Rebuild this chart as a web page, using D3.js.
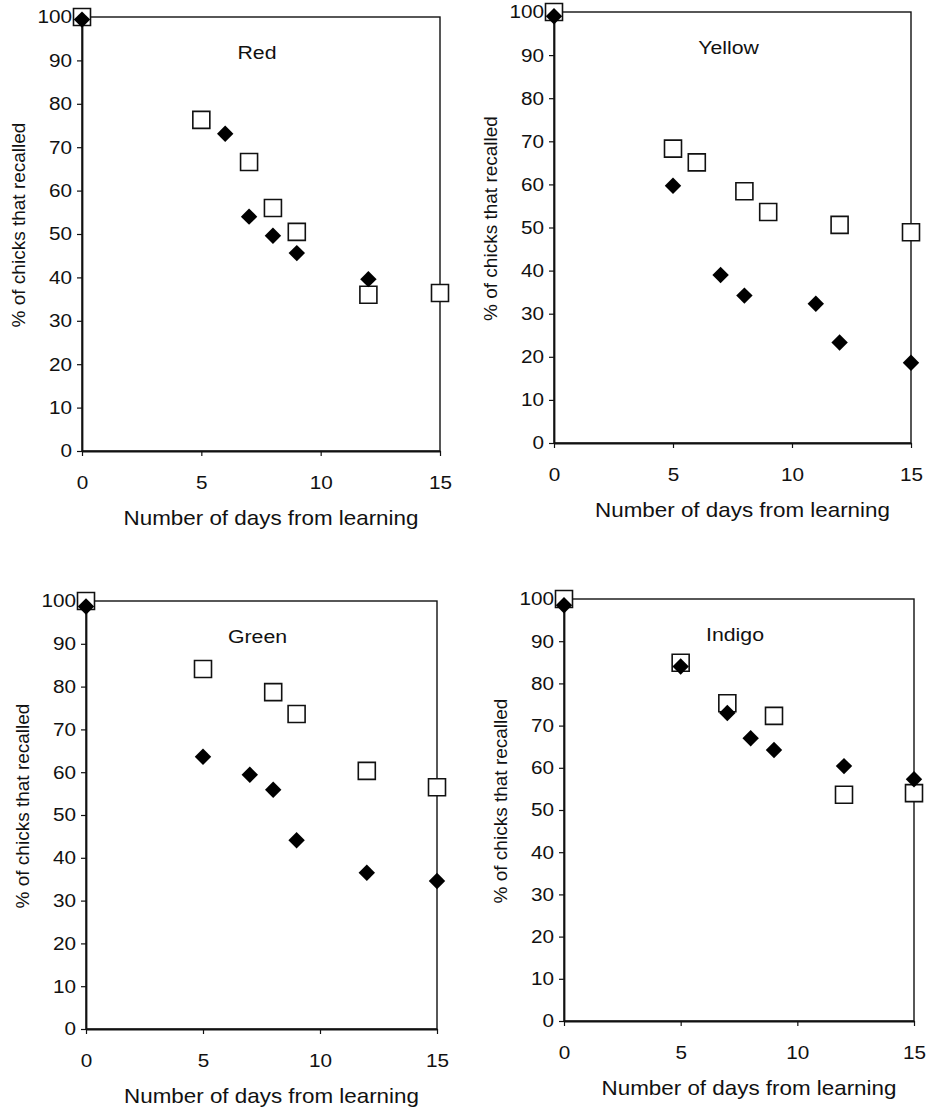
<!DOCTYPE html>
<html>
<head>
<meta charset="utf-8">
<script src="https://cdn.jsdelivr.net/npm/d3@7"></script>
<style>
  body { margin: 0; background: #fff; }
  text { font-family: "Liberation Sans", Arial, sans-serif; fill: #111; }
</style>
</head>
<body>
<script>
var width = 931,
    height = 1108,
    stretch = 1.12; // the printed font is wider than Arial

// day from learning / % of chicks that recalled
var redOpenDays = [0, 5, 7, 8, 9, 12, 15];
var redOpen = [100, 76.3, 66.6, 56, 50.5, 36, 36.4];
var redFilledDays = [0, 6, 7, 8, 9, 12];
var redFilled = [99.4, 73.1, 54, 49.6, 45.6, 39.6];

var yellowOpenDays = [0, 5, 6, 8, 9, 12, 15];
var yellowOpen = [100, 68.3, 65.1, 58.4, 53.6, 50.6, 48.9];
var yellowFilledDays = [0, 5, 7, 8, 11, 12, 15];
var yellowFilled = [99, 59.7, 39, 34.2, 32.3, 23.3, 18.6];

var greenOpenDays = [0, 5, 8, 9, 12, 15];
var greenOpen = [100, 84.1, 78.7, 73.6, 60.3, 56.5];
var greenFilledDays = [0, 5, 7, 8, 9, 12, 15];
var greenFilled = [98.7, 63.6, 59.4, 55.9, 44.1, 36.5, 34.6];

var indigoOpenDays = [0, 5, 7, 9, 12, 15];
var indigoOpen = [100, 84.9, 75.3, 72.3, 53.6, 54];
var indigoFilledDays = [0, 5, 7, 8, 9, 12, 15];
var indigoFilled = [98.5, 84, 73, 67, 64.2, 60.4, 57.3];

var xTicks = [0, 5, 10, 15];
var yTicks = [0, 10, 20, 30, 40, 50, 60, 70, 80, 90, 100];
var xTitle = "Number of days from learning";
var yTitle = "% of chicks that recalled";

function zip(days, vals) {
  return days.map(function(d, i) { return {day: d, value: vals[i]}; });
}

var panels = [
  {name: "Red", left: 82, top: 17, w: 358, h: 434,
   open: zip(redOpenDays, redOpen), filled: zip(redFilledDays, redFilled)},
  {name: "Yellow", left: 554, top: 12, w: 357, h: 431,
   open: zip(yellowOpenDays, yellowOpen), filled: zip(yellowFilledDays, yellowFilled)},
  {name: "Green", left: 86, top: 601, w: 351, h: 428,
   open: zip(greenOpenDays, greenOpen), filled: zip(greenFilledDays, greenFilled)},
  {name: "Indigo", left: 564, top: 599, w: 350, h: 422,
   open: zip(indigoOpenDays, indigoOpen), filled: zip(indigoFilledDays, indigoFilled)}
];

var svg = d3.select("body")
  .append("svg")
  .attr("width", width)
  .attr("height", height);

var squareSym = d3.symbol().type(d3.symbolSquare).size(289);
var diamondSym = d3.symbol().type(d3.symbolSquare).size(135);

panels.forEach(function(p) {
  var x = d3.scaleLinear().domain([0, 15]).range([0, p.w]);
  var y = d3.scaleLinear().domain([0, 100]).range([p.h, 0]);

  var g = svg.append("g")
    .attr("transform", "translate(" + p.left + "," + p.top + ")");

  // frame (top and right sides)
  g.append("rect")
    .attr("width", p.w)
    .attr("height", p.h)
    .attr("fill", "none")
    .attr("stroke", "#111")
    .attr("stroke-width", 1.4);

  var yAxis = g.append("g")
    .call(d3.axisLeft(y).tickValues(yTicks).tickSize(5).tickPadding(4).tickSizeOuter(0));

  var xAxis = g.append("g")
    .attr("transform", "translate(0," + p.h + ")")
    .call(d3.axisBottom(x).tickValues(xTicks).tickSize(5).tickPadding(20).tickSizeOuter(0));

  [xAxis, yAxis].forEach(function(a) {
    a.select(".domain").attr("stroke", "#111").attr("stroke-width", 1.8);
    a.selectAll(".tick line").attr("stroke", "#111").attr("stroke-width", 1.2);
    a.selectAll(".tick text")
      .attr("font-size", 18.5)
      .attr("font-family", "Liberation Sans, Arial, sans-serif")
      .attr("fill", "#111")
      .attr("transform", "scale(" + stretch + ",1)");
  });

  // colour name inside the plot
  g.append("text")
    .attr("transform", "translate(" + (p.w / 2 - 4) + ",42) scale(" + stretch + ",1)")
    .attr("text-anchor", "middle")
    .attr("font-size", 19)
    .text(p.name);

  g.append("text")
    .attr("transform", "translate(" + (p.w / 2 + 10) + "," + (p.h + 74) + ") scale(" + stretch + ",1)")
    .attr("text-anchor", "middle")
    .attr("font-size", 20)
    .text(xTitle);

  g.append("text")
    .attr("transform", "translate(-64," + (p.h / 2 - 9) + ") rotate(-90)")
    .attr("text-anchor", "middle")
    .attr("dy", "0.35em")
    .attr("font-size", 19)
    .text(yTitle);

  g.append("g")
    .selectAll("path")
    .data(p.open)
    .enter().append("path")
    .attr("d", squareSym)
    .attr("transform", function(d) { return "translate(" + x(d.day) + "," + y(d.value) + ")"; })
    .attr("fill", "#fff")
    .attr("stroke", "#111")
    .attr("stroke-width", 1.6);

  g.append("g")
    .selectAll("path")
    .data(p.filled)
    .enter().append("path")
    .attr("d", diamondSym)
    .attr("transform", function(d) { return "translate(" + x(d.day) + "," + y(d.value) + ") rotate(45)"; })
    .attr("fill", "#000");
});
</script>
</body>
</html>
